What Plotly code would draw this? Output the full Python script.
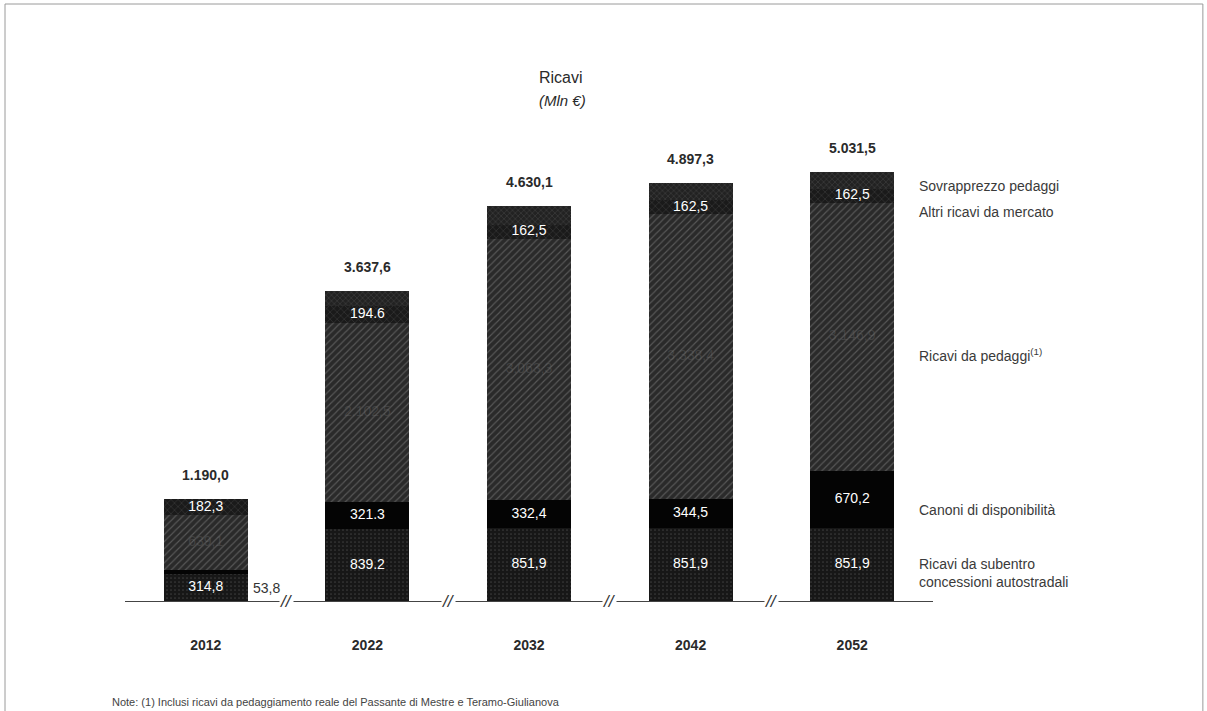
import numpy as np
import plotly.graph_objects as go

years = ["2012", "2022", "2032", "2042", "2052"]
subentro = [314.8, 839.2, 851.9, 851.9, 851.9]
canoni = [53.8, 321.3, 332.4, 344.5, 670.2]
pedaggi = [639.1, 2102.5, 3063.3, 3338.4, 3146.9]
altri = [182.3, 194.6, 162.5, 162.5, 162.5]
sovrapprezzo = [0.0, 180.0, 220.0, 200.0, 200.0]
totals = [1190.0, 3637.6, 4630.1, 4897.3, 5031.5]

subentro_lbl = ["314,8", "839.2", "851,9", "851,9", "851,9"]
canoni_lbl = ["53,8", "321.3", "332,4", "344,5", "670,2"]
pedaggi_lbl = ["639,1", "2.102,5", "3.063,3", "3.338,4", "3.146,9"]
altri_lbl = ["182,3", "194.6", "162,5", "162,5", "162,5"]
totals_lbl = ["1.190,0", "3.637,6", "4.630,1", "4.897,3", "5.031,5"]

series_names = ["Ricavi da subentro<br>concessioni autostradali", "Canoni di disponibilità",
                "Ricavi da pedaggi<sup>(1)</sup>", "Altri ricavi da mercato", "Sovrapprezzo pedaggi"]
label_shift = [-8, -10, -18, -16, -6]

FONT = "Liberation Sans, Arial, sans-serif"
x = np.arange(len(years))
stack = np.array([subentro, canoni, pedaggi, altri, sovrapprezzo])
bases = np.vstack([np.zeros(len(years)), np.cumsum(stack, axis=0)[:-1]])
mids = bases + stack / 2

styles = [
    dict(color="#171717", pattern=dict(shape=".", fgcolor="#5e5e5e", size=4, solidity=0.15)),
    dict(color="#040404"),
    dict(color="#2a2a2a", pattern=dict(shape="/", fgcolor="#858585", size=5, solidity=0.22)),
    dict(color="#1a1a1a", pattern=dict(shape="x", fgcolor="#6a6a6a", size=5, solidity=0.18)),
    dict(color="#222222", pattern=dict(shape="x", fgcolor="#7a7a7a", size=4, solidity=0.2)),
]

fig = go.Figure()
for i in range(5):
    fig.add_trace(go.Bar(x=x, y=stack[i], width=0.52, marker=dict(line=dict(width=0), **styles[i]),
                         name=series_names[i], showlegend=False, hoverinfo="skip"))


def add_labels(idx, labels, color="white"):
    xs, ys, ts = [], [], []
    for j, t in enumerate(labels):
        if not (idx == 1 and j == 0):
            xs.append(x[j]); ys.append(mids[idx][j]); ts.append(t)
    fig.add_trace(go.Scatter(x=xs, y=ys, text=ts, mode="text", showlegend=False, hoverinfo="skip",
                             textfont=dict(family=FONT, size=14, color=color)))


add_labels(0, subentro_lbl)
add_labels(1, canoni_lbl)
add_labels(2, pedaggi_lbl, color="rgba(110,110,110,0.35)")
add_labels(3, altri_lbl)

# axis breaks (drawn first so the 53,8 label sits above them)
for j in range(len(years) - 1):
    fig.add_annotation(x=x[j] + 0.5, y=0, xref="x", yref="y", text="<i>//</i>", showarrow=False,
                       bgcolor="white", borderpad=0, yanchor="middle",
                       font=dict(family=FONT, size=17, color="#333"))

# 2012 canoni label, outside the bar
fig.add_annotation(x=x[0], y=subentro[0] / 2, text=canoni_lbl[0], showarrow=False, xshift=61,
                   font=dict(family=FONT, size=14, color="#333"))

# totals
for j in range(len(years)):
    fig.add_annotation(x=x[j], y=totals[j], text="<b>" + totals_lbl[j] + "</b>", showarrow=False,
                       yshift=24, font=dict(family=FONT, size=14, color="#2a2a2a"))

# right side series labels aligned to the last bar
last = len(years) - 1
for i in range(5):
    fig.add_annotation(x=4.5, y=mids[i][last], xref="x", yref="y", yanchor="middle",
                       text=series_names[i], showarrow=False, xanchor="left", xshift=-16,
                       yshift=label_shift[i], align="left",
                       font=dict(family=FONT, size=14, color="#3a3a3a"))

# title
fig.add_annotation(x=0.54, y=1.044, xref="paper", yref="paper", yanchor="middle", text="Ricavi",
                   showarrow=False, font=dict(family=FONT, size=16, color="#2a2a2a"))
fig.add_annotation(x=0.542, y=1.0, xref="paper", yref="paper", yanchor="middle", text="<i>(Mln €)</i>",
                   showarrow=False, font=dict(family=FONT, size=15, color="#2a2a2a"))

# footnote
fig.add_annotation(x=-0.019, y=-0.2016, xref="paper", yref="paper", xanchor="left", yanchor="middle",
                   showarrow=False,
                   text="Note: (1) Inclusi ricavi da pedaggiamento reale del Passante di Mestre e Teramo-Giulianova",
                   font=dict(family=FONT, size=11, color="#444"))

# frame
fig.add_shape(type="rect", xref="paper", yref="paper", x0=-0.1485, x1=1.334, y0=-0.23, y1=1.1916,
              line=dict(color="#9a9a9a", width=1))

fig.update_layout(
    width=1207, height=711, barmode="stack", plot_bgcolor="white", paper_bgcolor="white",
    margin=dict(l=125, r=274, t=100, b=110),
    xaxis=dict(range=[-0.5, 4.5], tickvals=x, ticktext=["<b>" + y + "</b>" for y in years],
               showline=True, linecolor="#444", linewidth=1, ticks="", showgrid=False, zeroline=False,
               ticklabelstandoff=31, tickfont=dict(family=FONT, size=14, color="#2a2a2a")),
    yaxis=dict(range=[0, 5873], visible=False, showgrid=False, zeroline=False),
    font=dict(family=FONT),
)

fig.write_html("out.html", config={"displayModeBar": False},
               post_script="document.body.style.margin='0';document.body.style.overflow='hidden';")
